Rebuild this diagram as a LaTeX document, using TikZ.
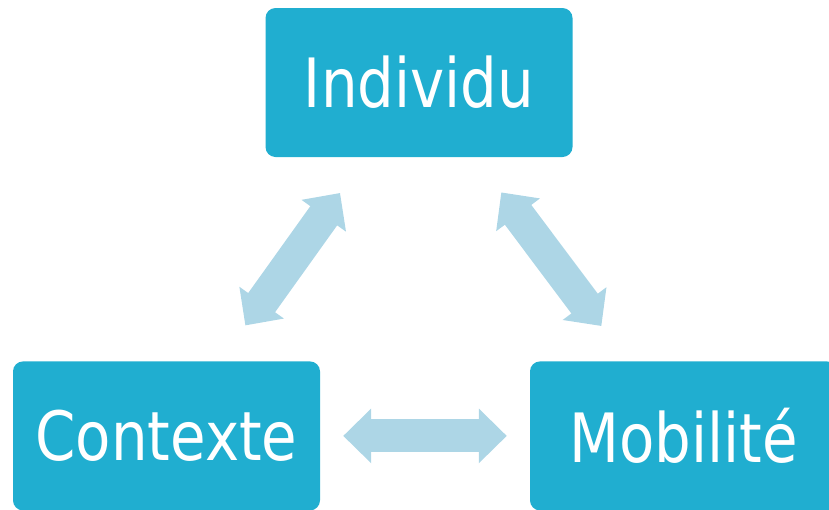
\documentclass[tikz,border=0pt]{standalone}
\usepackage{fontspec}
\newfontfamily\boxfont{DejaVu Sans}[FakeStretch=0.85]
\usepackage{tikz}
\usetikzlibrary{arrows.meta, positioning}
\definecolor{boxblue}{HTML}{20AED0}
\definecolor{linkblue}{HTML}{ADD6E6}

\begin{document}
\begin{tikzpicture}[
    x=1pt, y=-1pt,
    box/.style={rectangle, rounded corners=10pt, fill=boxblue, text=white, minimum width=307pt, minimum height=149pt, inner sep=0pt, align=center, font=\boxfont\fontsize{68}{80}\selectfont},
    link/.style={line width=33pt, draw=linkblue, {Triangle[width=53pt, length=28pt]}-{Triangle[width=53pt, length=28pt]}}
]
    \useasboundingbox (0,0) rectangle (829,509);
    \node[box] (individu) at (419,82.5) {Individu};
    \node[box, below=204pt of individu, xshift=-252.5pt] (contexte) {Contexte};
    \node[box, below=204pt of individu, xshift=264.5pt] (mobilite) {Mobilité};

    \draw[link, shorten <=44pt, shorten >=44pt] (individu) -- (contexte);
    \draw[link, shorten <=44pt, shorten >=44pt] (individu) -- (mobilite);
    \draw[link, shorten <=23pt, shorten >=23pt] (contexte) -- (mobilite);
\end{tikzpicture}
\end{document}
